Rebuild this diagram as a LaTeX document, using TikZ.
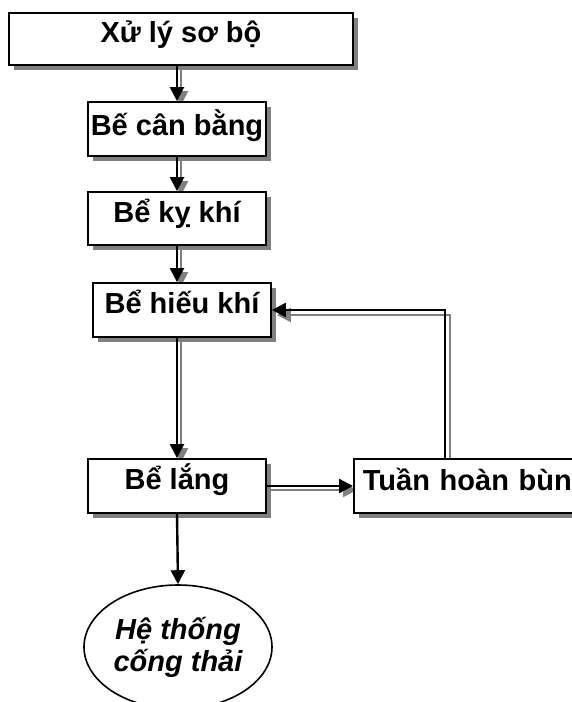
\documentclass[tikz,border=0pt]{standalone}
\usepackage{fontspec}
\setmainfont{Liberation Sans}
\usetikzlibrary{arrows.meta,shapes.geometric,shadows}
\pgfdeclarelayer{bg}
\pgfsetlayers{bg,main}
\begin{document}
\begin{tikzpicture}[x=1pt,y=-1pt,
  boxstyle/.style={draw=black, line width=1.8pt, fill=white, inner sep=0pt,
    font=\bfseries\fontsize{29}{32}\selectfont,
    drop shadow={shadow xshift=5pt, shadow yshift=-5pt, fill=shadowgray, opacity=1}},
  arr/.style={line width=2.4pt, -{Triangle[length=14pt,width=14pt]}},
  sarr/.style={arr, color=shadowgray, transform canvas={xshift=4pt, yshift=-4pt}},
  sarrb/.style={arr, color=shadowgray, transform canvas={xshift=5pt, yshift=-5pt}},
  ovalstyle/.style={ellipse, draw=black, line width=1.6pt, fill=white, inner sep=0pt,
    minimum width=188pt, minimum height=124pt, align=center,
    font=\bfseries\itshape\fontsize{29}{32}\selectfont}
]
\definecolor{shadowgray}{RGB}{128,128,128}
\useasboundingbox (0,0) rectangle (572,702);

\node[boxstyle, minimum width=344pt, text height=29pt, text depth=23pt] (b1) at (181,39) {Xử lý sơ bộ};
\node[boxstyle, minimum width=178pt, text height=33pt, text depth=21pt] (b2) at (177,129) {Bế cân bằng};
\node[boxstyle, minimum width=178pt, text height=30pt, text depth=23pt] (b3) at (177,218.5) {Bể kỵ khí};
\node[boxstyle, minimum width=178pt, text height=30pt, text depth=24pt] (b4) at (182,310) {Bể hiếu khí};
\node[boxstyle, minimum width=178pt, text height=30pt, text depth=24pt] (b5) at (177,486) {Bể lắng};
\node[boxstyle, anchor=west, inner xsep=9pt, text width=220pt, align=left, text height=31pt, text depth=23pt] (b6) at (353,486) {Tuần hoàn bùn};
\node[ovalstyle] (e) at (178,647) {Hệ thống\\cống thải};

\coordinate (fb) at ([xshift=92pt]b6.north west);

\begin{pgfonlayer}{bg}
  \fill[white] (0,0) rectangle (572,702);
  \draw[sarr] (b2.north |- b1.south) -- (b2.north);
  \draw[sarr] (b3.north |- b2.south) -- (b3.north);
  \draw[sarr] (b3.south) -- (b3.south |- b4.north);
  \draw[sarr] (b5.north |- b4.south) -- (b5.north);
  \draw[sarr] (b5.east) -- (b6.west);
  \draw[sarrb] (fb) |- (b4.east);
\end{pgfonlayer}

\draw[arr] (b2.north |- b1.south) -- (b2.north);
\draw[arr] (b3.north |- b2.south) -- (b3.north);
\draw[arr] (b3.south) -- (b3.south |- b4.north);
\draw[arr] (b5.north |- b4.south) -- (b5.north);
\draw[arr] (b5.east) -- (b6.west);
\draw[arr] (fb) |- (b4.east);
\draw[arr] (b5.south) -- (e.north);
\end{tikzpicture}
\end{document}
